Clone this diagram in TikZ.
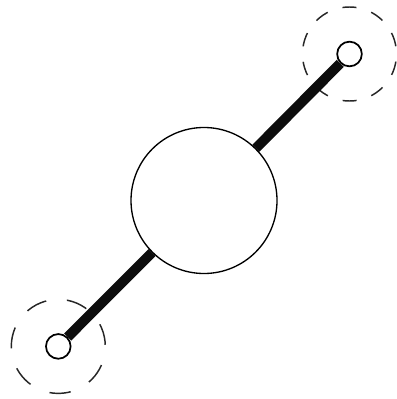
\documentclass[tikz,border=0pt]{standalone}
\tikzset{
  px/.style={x=0.75pt,y=-0.75pt},
  ringa/.style={draw=black!85,line width=1.1pt,dash pattern=on 10.5pt off 11.65pt,dash phase=16.3pt},
  ringb/.style={draw=black!85,line width=1.1pt,dash pattern=on 16pt off 15.64pt,dash phase=30.4pt},
  hub/.style={circle,draw=black,fill=white,line width=1pt,inner sep=0pt,minimum size=109.5pt},
  endpt/.style={circle,draw=black,fill=white,line width=1.3pt,inner sep=0pt,minimum size=18.5pt},
  rod/.style={draw=black!95,line width=7.5pt}
}
\begin{document}
\begin{tikzpicture}[px]
\useasboundingbox (0,0) rectangle (396,399);
\coordinate (ca) at (349.5,54);
\coordinate (cb) at (58.3,346.4);
\draw[ringa] (ca) circle[radius=35.25pt];
\draw[ringb] (cb) circle[radius=35.25pt];
\node[hub] (h) at (204,200.5) {};
\node[endpt] (a) at (ca) {};
\node[endpt] (b) at (cb) {};
\draw[rod] (h) -- (a);
\draw[rod] (h) -- (b);
\end{tikzpicture}
\end{document}
